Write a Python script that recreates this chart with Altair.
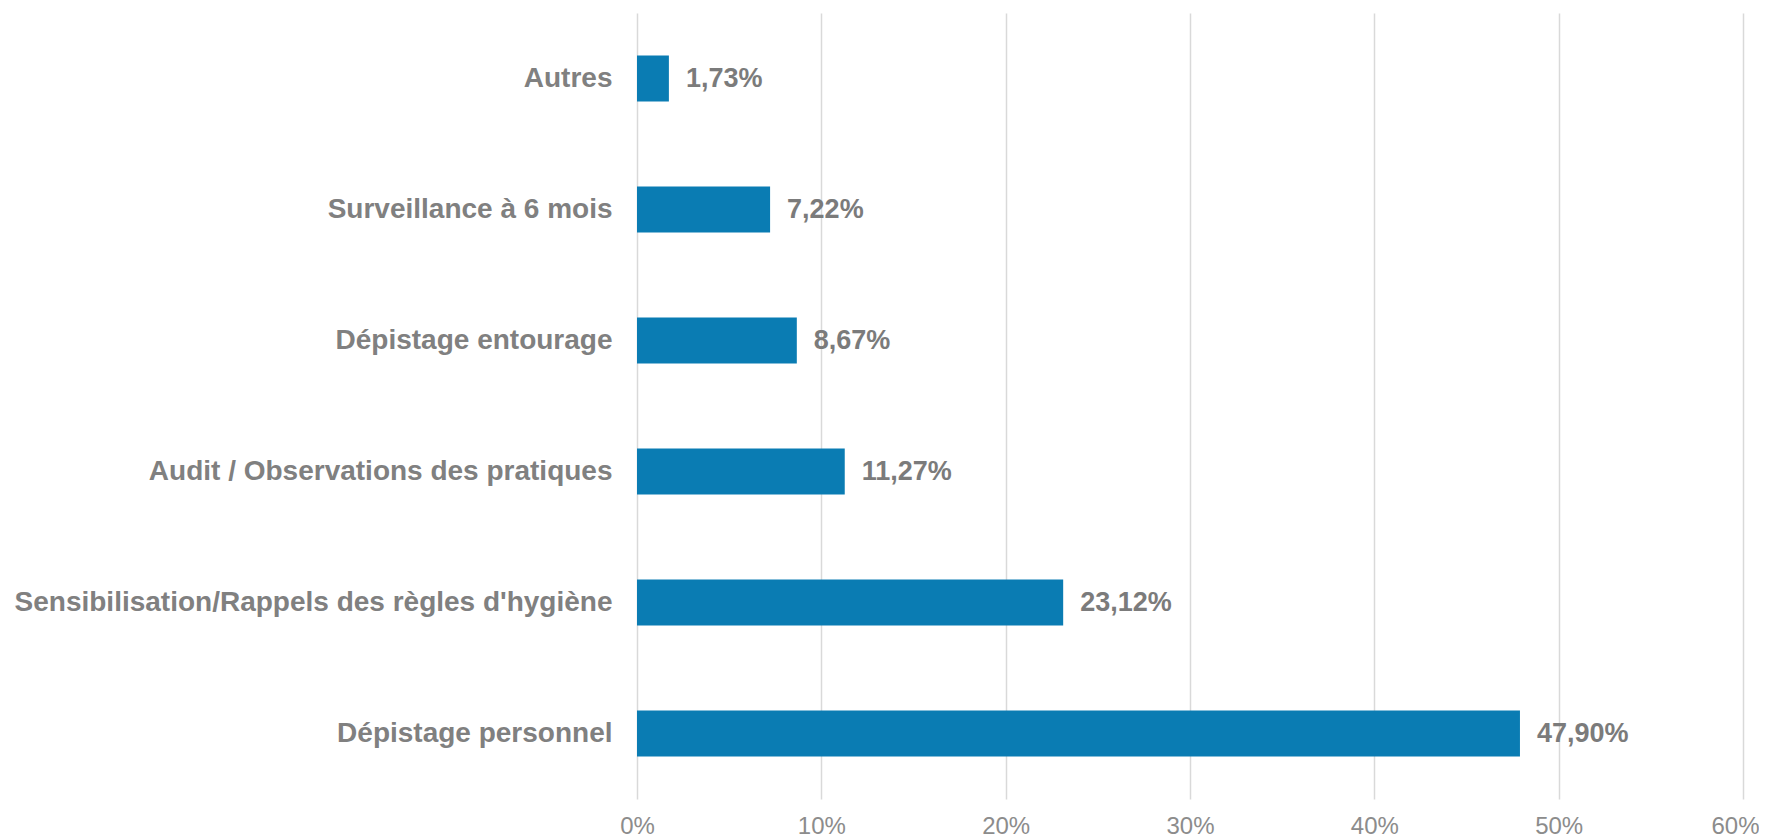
import altair as alt
import pandas as pd

categories = [
    "Autres",
    "Surveillance à 6 mois",
    "Dépistage entourage",
    "Audit / Observations des pratiques",
    "Sensibilisation/Rappels des règles d'hygiène",
    "Dépistage personnel",
]
values = [1.73, 7.22, 8.67, 11.27, 23.12, 47.90]
labels = [f"{v:.2f}".replace(".", ",") + "%" for v in values]
tick_values = [0, 10, 20, 30, 40, 50, 60]

df = pd.DataFrame({"cat": categories, "val": values, "lab": labels})

FONT = "Liberation Sans"

base = alt.Chart(df).encode(
    y=alt.Y(
        "cat:N",
        sort=categories,
        title=None,
        axis=alt.Axis(
            ticks=False,
            domain=False,
            labelFont=FONT,
            labelFontSize=28,
            labelFontWeight="bold",
            labelColor="#808080",
            labelPadding=25,
            labelLimit=1000,
        ),
    ),
    x=alt.X(
        "val:Q",
        title=None,
        scale=alt.Scale(domain=[0, 60], nice=False),
        axis=alt.Axis(
            values=tick_values,
            labelExpr="datum.value + '%'",
            ticks=False,
            domain=False,
            grid=True,
            gridColor="#d9d9d9",
            gridWidth=1.5,
            labelFont=FONT,
            labelFontSize=24,
            labelColor="#8c8c8c",
            labelPadding=15,
            labelFlush=False,
            labelOffset={"expr": "datum.value == 60 ? -8 : 0"},
        ),
    ),
)

bars = base.mark_bar(size=46, color="#0a7cb3")
text = base.mark_text(
    align="left", baseline="middle", dx=17, font=FONT, fontSize=27,
    fontWeight="bold", color="#7b7b7b"
).encode(text="lab:N")

chart = (bars + text).properties(
    width=1106,
    height=786,
    autosize=alt.AutoSizeParams(type="none"),
    padding={"left": 629, "top": 5, "right": 16, "bottom": 41},
).configure_view(stroke=None)

chart.save("out.html", embed_options={"renderer": "svg", "actions": False})
